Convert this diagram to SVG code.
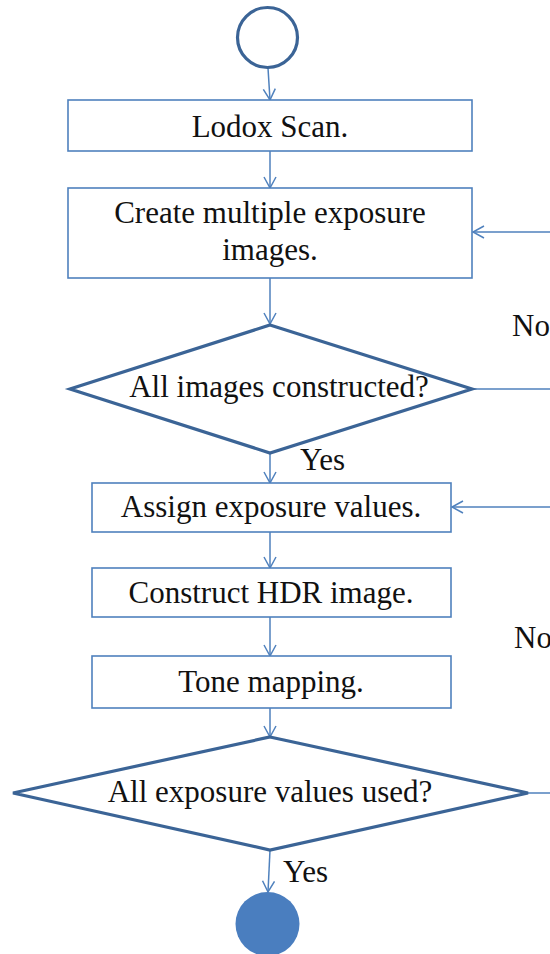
<svg xmlns="http://www.w3.org/2000/svg" width="550" height="954" viewBox="0 0 550 954">
<defs>
<marker id="arr" markerWidth="14" markerHeight="14" refX="12" refY="7" orient="auto" markerUnits="userSpaceOnUse">
<path d="M1,1 L12,7 L1,13" fill="none" stroke="#4F81BD" stroke-width="1.5"/>
</marker>
<style>
.box{fill:#fff;stroke:#4F81BD;stroke-width:1.6}
.dia{fill:#fff;stroke:#3B6496;stroke-width:3.2}
.con{fill:none;stroke:#4F81BD;stroke-width:1.5}
.t{text-anchor:middle;fill:#111}
.l{fill:#111}
</style>
</defs>
<rect width="550" height="954" fill="#fff"/>
<g id="connectors">
<line class="con" x1="268" y1="68" x2="270" y2="100" marker-end="url(#arr)"/>
<line class="con" x1="270" y1="151" x2="270" y2="188" marker-end="url(#arr)"/>
<line class="con" x1="270" y1="278" x2="270" y2="324" marker-end="url(#arr)"/>
<line class="con" x1="472" y1="389" x2="550" y2="389"/>
<line class="con" x1="550" y1="232" x2="473" y2="232" marker-end="url(#arr)"/>
<line class="con" x1="270" y1="453" x2="270" y2="483" marker-end="url(#arr)"/>
<line class="con" x1="270" y1="532" x2="270" y2="568" marker-end="url(#arr)"/>
<line class="con" x1="270" y1="617" x2="270" y2="656" marker-end="url(#arr)"/>
<line class="con" x1="270" y1="708" x2="270" y2="737" marker-end="url(#arr)"/>
<line class="con" x1="528" y1="793" x2="550" y2="793"/>
<line class="con" x1="550" y1="507" x2="452" y2="507" marker-end="url(#arr)"/>
<line class="con" x1="270" y1="850" x2="268" y2="892" marker-end="url(#arr)"/>
<text class="l" x="512" y="336" font-family="Liberation Serif" font-size="31">No</text>
<text class="l" x="300" y="470" font-family="Liberation Serif" font-size="31">Yes</text>
<text class="l" x="514" y="648" font-family="Liberation Serif" font-size="31">No</text>
<text class="l" x="283" y="882" font-family="Liberation Serif" font-size="31">Yes</text>
</g>
<g id="start"><circle cx="267.5" cy="37.5" r="30" fill="#fff" stroke="#3B6496" stroke-width="3.2"/></g>
<g id="lodox"><rect class="box" x="68" y="100" width="404" height="51"/><text class="t" x="270" y="137" font-family="Liberation Serif" font-size="31">Lodox Scan.</text></g>
<g id="create"><rect class="box" x="68" y="188" width="404" height="90"/><text class="t" x="270" y="223" font-family="Liberation Serif" font-size="31">Create multiple exposure</text><text class="t" x="270" y="260" font-family="Liberation Serif" font-size="31">images.</text></g>
<g id="d1"><polygon class="dia" points="270,325 472,389 270,453 70,389"/><text class="t" x="279" y="397" font-family="Liberation Serif" font-size="31">All images constructed?</text></g>
<g id="assign"><rect class="box" x="92" y="483" width="359" height="49"/><text class="t" x="271" y="517" font-family="Liberation Serif" font-size="31">Assign exposure values.</text></g>
<g id="hdr"><rect class="box" x="92" y="568" width="359" height="49"/><text class="t" x="271" y="603" font-family="Liberation Serif" font-size="31">Construct HDR image.</text></g>
<g id="tone"><rect class="box" x="92" y="656" width="359" height="52"/><text class="t" x="271" y="692" font-family="Liberation Serif" font-size="31">Tone mapping.</text></g>
<g id="d2"><polygon class="dia" points="270,737 528,793 270,850 13,793"/><text class="t" x="270" y="802" font-family="Liberation Serif" font-size="31">All exposure values used?</text></g>
<g id="end"><circle cx="267.5" cy="924" r="32" fill="#4A7EBF"/></g>
</svg>
